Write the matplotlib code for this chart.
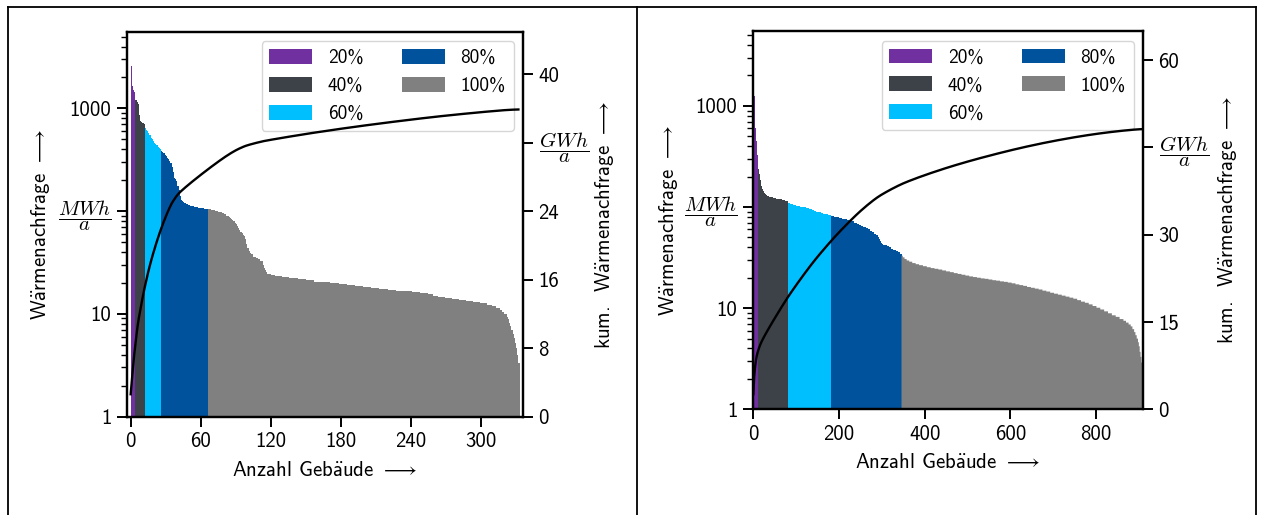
import numpy as np
import matplotlib
matplotlib.use("Agg")
import matplotlib.pyplot as plt
from matplotlib.patches import Patch
from matplotlib.lines import Line2D
from matplotlib.ticker import LogLocator, NullFormatter

plt.rcParams['font.family'] = ['cmss10', 'DejaVu Sans']
plt.rcParams['mathtext.fontset'] = 'cm'
plt.rcParams['font.size'] = 15
plt.rcParams['axes.unicode_minus'] = False

# Heat demand per building in MWh/a, sorted descending, stored as runs (value, count)
left_values = [2600, 1650, 1500, 1450,
               1200, 1150, 1100, 870, 760, 740, 720, 700,
               640, 620, 600, 580, 550, 520, 500, 480, 465, 450, 440, 425, 415, 405,
               385, 375, 365, 350, 340, 330, 320, 305, 295, 270, 240, 210, 205, 195,
               175, 160, 140, 128, 124, 122, 120, 118, 116, 115, 114, 113, 112, 111,
               110, 109, 108, 107, 106, 105, 104,
               104, 102, 100, 98, 96, 93, 90, 88, 86, 84, 82, 80, 77, 74, 71, 69, 66,
               63, 61, 59, 57, 53, 48, 44, 41, 39, 38, 36, 35, 34, 33, 30, 28, 26.5,
               25.5, 24.5, 24, 23.4, 22.9, 22.4, 21.8, 21.3, 20.6, 20.2, 19.8, 19.4,
               19.0, 18.5, 18.1, 17.8, 17.5, 17.1, 16.8, 16.6, 16.4, 16.1, 15.6, 15.0,
               14.7, 14.3, 13.9, 13.6, 13.3, 12.9, 12.6, 12.3, 11.9, 11.4, 11.0, 10.5,
               9.9, 9.4, 8.8, 8.2, 7.6, 7.0, 6.4, 5.8, 5.2, 4.6, 4.0, 3.3]
left_counts = [1, 1, 1, 1,
               1, 1, 1, 1, 1, 1, 1, 1,
               1, 1, 1, 1, 1, 1, 1, 1, 1, 1, 1, 1, 1, 1,
               1, 1, 1, 1, 1, 1, 1, 1, 1, 1, 1, 1, 1, 1,
               1, 1, 1, 1, 1, 1, 1, 1, 1, 1, 1, 1, 1, 1,
               2, 2, 1, 2, 2, 2, 1,
               3, 3, 3, 3, 2, 2, 2, 1, 1, 1, 1, 1, 1, 1, 1, 1, 1,
               1, 1, 1, 1, 1, 1, 1, 1, 1, 2, 2, 2, 2, 2, 1, 1, 1,
               1, 3, 4, 6, 6, 7, 7, 7, 7, 7, 7, 7,
               7, 7, 7, 7, 7, 7, 7, 7, 7, 7, 4, 4,
               6, 6, 6, 6, 6, 6, 6, 4, 4, 3, 2, 2,
               2, 1, 1, 1, 1, 1, 1, 1, 1, 1, 1, 1]
left_class_sizes = [4, 8, 14, 40, 267]

right_values = [2600, 1650, 1250, 950, 760, 600, 510, 450, 390, 330, 270,
                250, 235, 222, 210, 198, 187, 178, 170, 163, 157, 151, 147, 143, 140,
                137, 134, 131, 129, 127, 125, 123, 121, 119, 117, 114,
                110, 107, 105, 103, 101, 100, 98, 96, 94, 92, 90, 88.5, 87, 86, 85, 84,
                82, 80.5, 79, 77.5, 76.5, 75.5, 74.5, 73.5, 72, 70, 68.5, 67, 65, 63.5,
                62, 60.5, 58.5, 56.5, 54.5, 52.5, 50.5, 48.5, 46.5, 44.5, 43.5, 42.5,
                41.8, 40.8, 39.8, 38.8, 37.8, 36.8, 35.7, 34.7,
                33, 31.8, 30.6, 29.6, 28.8, 27.9, 27.2,
                26.6, 26.0, 25.4, 24.9, 24.5, 24.1, 23.6, 23.1, 22.7, 22.2,
                21.8, 21.4, 21.0, 20.6, 20.3, 20.0, 19.7, 19.5, 19.2, 18.9,
                18.7, 18.4, 18.2, 17.9, 17.6, 17.2, 16.9, 16.6, 16.2, 15.9,
                15.6, 15.3, 14.9, 14.6, 14.2, 13.9, 13.6, 13.3, 13.0, 12.7,
                12.4, 12.0, 11.6, 11.3, 10.9, 10.5, 10.1, 9.7, 9.3, 8.9,
                8.5, 8.2, 7.8,
                7.5, 7.2, 6.9, 6.6, 6.2, 5.8, 5.4, 5.0, 4.6, 4.2, 3.7, 3.3, 2.9]
right_counts = [1, 1, 1, 1, 1, 1, 1, 1, 1, 1, 1,
                1, 1, 1, 1, 1, 1, 1, 1, 1, 1, 1, 1, 1, 1,
                2, 2, 3, 4, 5, 6, 7, 7, 7, 7, 6,
                5, 6, 8, 8, 8, 8, 6, 6, 6, 5, 5, 5, 6, 6, 6, 7,
                6, 6, 6, 6, 6, 6, 6, 6, 6, 6, 5, 5, 5, 5,
                5, 6, 5, 4, 4, 4, 3, 3, 2, 2, 3, 4,
                5, 5, 5, 5, 5, 5, 5, 4,
                3, 4, 5, 6, 7, 8, 8,
                9, 9, 9, 9, 9, 9, 9, 9, 9, 9,
                9, 9, 9, 9, 9, 9, 9, 9, 9, 9,
                9, 9, 9, 9, 9, 9, 9, 9, 9, 9,
                9, 9, 9, 9, 9, 9, 9, 9, 9, 9,
                9, 9, 9, 9, 9, 9, 9, 9, 9, 9,
                9, 9, 9,
                6, 6, 5, 4, 4, 3, 3, 3, 2, 2, 2, 2, 3]
right_class_sizes = [11, 70, 101, 164, 563]

class_labels = ['20%', '40%', '60%', '80%', '100%']
class_colors = ['#7030A0', '#3C4248', '#00BFFF', '#00529C', '#808080']

left_xticks = [0, 60, 120, 180, 240, 300]
right_xticks = [0, 200, 400, 600, 800]
demand_ticks = [1, 10, 100, 1000]
demand_ticklabels = ['1', '10', r'$\dfrac{MWh}{a}$', '1000']
left_cum_ticks = [0, 8, 16, 24, 32, 40]
right_cum_ticks = [0, 15, 30, 45, 60]

AE = r'$\mathsf{\ddot{a}}$'
label_demand = 'W' + AE + r'rmenachfrage $\longrightarrow$'
label_cum = 'kum.  W' + AE + r'rmenachfrage $\longrightarrow$'
label_count = 'Anzahl Geb' + AE + r'ude $\longrightarrow$'

W, H = 1261, 515
fig = plt.figure(figsize=(W / 100, H / 100), dpi=100)


def px_rect(x0, y0, x1, y1):
    return [x0 / W, 1 - y1 / H, (x1 - x0) / W, (y1 - y0) / H]


def draw_panel(rect, values, counts, class_sizes, xlim, ylim_top, cum_top,
               xticks, cum_ticks, label_pos):
    demand = np.repeat(values, counts)
    n = len(demand)
    edges = np.arange(n + 1)
    bounds = np.concatenate([[0], np.cumsum(class_sizes)])

    ax = fig.add_axes(rect)
    ax.set_yscale('log')
    for k in range(len(class_sizes)):
        s, e = bounds[k], bounds[k + 1]
        ax.stairs(demand[s:e], edges[s:e + 1], fill=True, baseline=0.1,
                  color=class_colors[k], linewidth=0)
    ax.set_xlim(*xlim)
    ax.set_ylim(1, ylim_top)
    ax.set_xticks(xticks)
    ax.set_yticks(demand_ticks)
    ax.set_yticklabels(demand_ticklabels)
    ax.yaxis.set_minor_locator(LogLocator(base=10, subs=np.arange(2, 10)))
    ax.yaxis.set_minor_formatter(NullFormatter())

    handles = [Patch(facecolor=c, edgecolor='none') for c in class_colors]
    ax.legend(handles, class_labels, loc='upper right', ncol=2, fontsize=14,
              handlelength=2.2, handleheight=0.8, borderaxespad=0.5)

    ax2 = ax.twinx()
    ax2.plot(np.arange(n), np.cumsum(demand) / 1000.0, color='black', lw=1.7)
    ax2.set_ylim(0, cum_top)
    ax2.set_yticks(cum_ticks)
    cum_labels = [str(t) for t in cum_ticks]
    cum_labels[-2] = r'$\dfrac{GWh}{a}$'
    ax2.set_yticklabels(cum_labels)

    for a in (ax, ax2):
        for sp in a.spines.values():
            sp.set_linewidth(1.6)
        a.tick_params(which='major', direction='out', length=7, width=1.4, pad=4,
                      labelsize=15)
        a.tick_params(which='minor', direction='out', length=4, width=1.0)

    (ylx, yly), (rlx, rly), (xlx, xly) = label_pos
    fig.text(ylx / W, 1 - yly / H, label_demand,
             rotation=90, ha='center', va='center')
    fig.text(rlx / W, 1 - rly / H, label_cum,
             rotation=90, ha='center', va='center')
    fig.text(xlx / W, 1 - xly / H, label_count, ha='center', va='center')
    return ax, ax2


draw_panel(px_rect(126.7, 31.5, 523.3, 416.5), left_values, left_counts,
           left_class_sizes, (-3.4, 336.2), 5600, 45.0,
           left_xticks, left_cum_ticks, [(41, 225), (604, 225), (325, 470)])
draw_panel(px_rect(752.7, 31.0, 1143.3, 409.3), right_values, right_counts,
           right_class_sizes, (-1.4, 910.4), 5500, 65.0,
           right_xticks, right_cum_ticks, [(668.6, 221), (1227.6, 220), (948, 462)])

# table frame around the two panels
frame_kw = dict(color='black', linewidth=1.3, transform=fig.transFigure)
for xp in (7.5, 637, 1256):
    fig.add_artist(Line2D([xp / W, xp / W], [0, 1 - 7 / H], **frame_kw))
fig.add_artist(Line2D([7.5 / W, 1256 / W], [1 - 7 / H, 1 - 7 / H], **frame_kw))

fig.savefig('out.png', dpi=100)
